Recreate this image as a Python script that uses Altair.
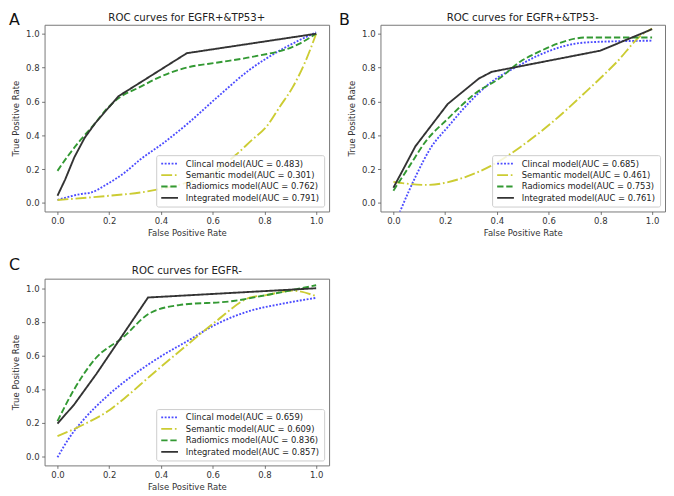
import altair as alt
import pandas as pd

# ---------------- data ----------------
MODELS = ["Clincal", "Semantic", "Radiomics", "Integrated"]
COLORS = ["#4c4cff", "#cccc33", "#339933", "#333333"]
DASHES = [[1.9, 1.6], [11, 2.8, 1.7, 2.8], [6.4, 2.8], [1, 0]]
LETTERS = ["A", "B", "C"]
TITLES = ["ROC curves for EGFR+&TP53+", "ROC curves for EGFR+&TP53-", "ROC curves for EGFR-"]
TICKS = [0.0, 0.2, 0.4, 0.6, 0.8, 1.0]

A_AUC = [0.483, 0.301, 0.762, 0.791]
B_AUC = [0.685, 0.461, 0.753, 0.761]
C_AUC = [0.659, 0.609, 0.836, 0.857]

# Panel A
A_CLIN_X = [0.0, 0.09, 0.13, 0.19, 0.26, 0.32, 0.41, 0.5, 0.62, 0.74, 0.87, 1.0]
A_CLIN_Y = [0.018, 0.053, 0.062, 0.11, 0.18, 0.257, 0.355, 0.465, 0.628, 0.784, 0.91, 1.008]
A_SEM_X = [0.0, 0.2, 0.32, 0.42, 0.5, 0.6, 0.69, 0.75, 0.81, 0.86, 0.91, 0.96, 1.0]
A_SEM_Y = [0.018, 0.043, 0.062, 0.09, 0.12, 0.18, 0.285, 0.37, 0.455, 0.57, 0.686, 0.842, 1.0]
A_RAD_X = [0.0, 0.04, 0.09, 0.142, 0.193, 0.237, 0.32, 0.395, 0.5, 0.62, 0.744, 0.934, 1.0]
A_RAD_Y = [0.19, 0.277, 0.374, 0.465, 0.56, 0.62, 0.686, 0.744, 0.8, 0.83, 0.861, 0.94, 1.0]
A_INT_X = [0.0, 0.03, 0.065, 0.105, 0.145, 0.235, 0.5, 1.0]
A_INT_Y = [0.043, 0.14, 0.27, 0.385, 0.47, 0.63, 0.885, 1.0]

# Panel B
B_CLIN_X = [0.0, 0.03, 0.087, 0.144, 0.212, 0.29, 0.379, 0.483, 0.559, 0.749, 1.0]
B_CLIN_Y = [-0.15, -0.035, 0.16, 0.325, 0.452, 0.589, 0.715, 0.81, 0.871, 0.949, 0.959]
B_SEM_X = [0.0, 0.125, 0.29, 0.375, 0.49, 0.61, 0.737, 0.863, 0.964, 1.0]
B_SEM_Y = [0.125, 0.107, 0.16, 0.218, 0.33, 0.472, 0.647, 0.832, 0.998, 1.03]
B_RAD_X = [0.0, 0.062, 0.125, 0.212, 0.316, 0.417, 0.49, 0.546, 0.75, 1.0]
B_RAD_Y = [0.073, 0.218, 0.364, 0.5, 0.647, 0.744, 0.835, 0.881, 0.978, 0.978]
B_INT_X = [0.0, 0.085, 0.21, 0.33, 0.38, 0.8, 1.0]
B_INT_Y = [0.09, 0.335, 0.585, 0.735, 0.775, 0.9, 1.027]

# Panel C
C_CLIN_X = [0.0, 0.05, 0.101, 0.19, 0.292, 0.406, 0.501, 0.615, 0.743, 0.869, 1.0]
C_CLIN_Y = [-0.005, 0.121, 0.219, 0.356, 0.483, 0.601, 0.685, 0.787, 0.865, 0.908, 0.943]
C_SEM_X = [0.0, 0.101, 0.203, 0.267, 0.355, 0.495, 0.615, 0.743, 0.806, 0.907, 1.0]
C_SEM_Y = [0.121, 0.19, 0.278, 0.356, 0.474, 0.655, 0.806, 0.944, 0.959, 0.986, 0.953]
C_RAD_X = [0.0, 0.063, 0.146, 0.254, 0.355, 0.47, 0.679, 0.806, 1.0]
C_RAD_Y = [0.21, 0.395, 0.581, 0.709, 0.85, 0.9, 0.924, 0.959, 1.018]
C_INT_X = [0.0, 0.065, 0.15, 0.35, 1.0]
C_INT_Y = [0.195, 0.31, 0.49, 0.945, 1.0]

FONT = "DejaVu Sans"
W, H = 288, 189


def panel(letter, title, auc, series, ydom, letter_x, letter_y, title_y):
    labels = [f"{m} model(AUC = {a:.3f})" for m, a in zip(MODELS, auc)]
    rows = []
    for lab, (xs, ys) in zip(labels, series):
        for i, (x, y) in enumerate(zip(xs, ys)):
            rows.append({"model": lab, "fpr": x, "tpr": y, "order": i})
    df = pd.DataFrame(rows)

    leg = alt.Legend(
        title=None, orient="bottom-right", offset=5,
        fillColor="rgba(255,255,255,0.8)", strokeColor="#cccccc", cornerRadius=2,
        padding=4, labelFontSize=8.5, labelFont=FONT, labelColor="#222222",
        symbolType="M-1,0H4", symbolSize=46, symbolStrokeWidth=1.8,
        labelOffset=17, rowPadding=2.6, labelLimit=400,
    )
    xenc = alt.X(
        "fpr:Q",
        scale=alt.Scale(domain=[-0.05, 1.05], nice=False, zero=False),
        axis=alt.Axis(values=TICKS, format=".1f", title="False Positive Rate",
                      labelPadding=2.5, titlePadding=3, titleFontWeight="normal"),
    )
    yenc = alt.Y(
        "tpr:Q",
        scale=alt.Scale(domain=ydom, nice=False, zero=False),
        axis=alt.Axis(values=TICKS, format=".1f", title="True Positive Rate",
                      labelPadding=2.5, titlePadding=5.5, titleFontWeight="normal"),
    )
    color = alt.Color("model:N", scale=alt.Scale(domain=labels, range=COLORS), legend=leg)
    dash = alt.StrokeDash("model:N", scale=alt.Scale(domain=labels, range=DASHES), legend=leg)

    base = alt.Chart(df).encode(x=xenc, y=yenc, color=color, strokeDash=dash, order="order:Q")
    smooth = base.transform_filter(alt.datum.model != labels[3]).mark_line(
        interpolate="monotone", strokeWidth=1.9, clip=True)
    straight = base.transform_filter(alt.datum.model == labels[3]).mark_line(
        strokeWidth=1.9, clip=True)

    letter_mark = alt.Chart(pd.DataFrame({"t": [letter]})).mark_text(
        font=FONT, fontSize=16, align="left", baseline="top", color="#111111"
    ).encode(text="t:N", x=alt.value(letter_x), y=alt.value(letter_y))
    title_mark = alt.Chart(pd.DataFrame({"t": [title]})).mark_text(
        font=FONT, fontSize=10.3, align="center", baseline="alphabetic", color="#222222"
    ).encode(text="t:N", x=alt.value(W / 2), y=alt.value(title_y))

    return alt.layer(smooth, straight, letter_mark, title_mark).resolve_scale(
        color="shared", strokeDash="shared"
    ).properties(width=W, height=H)


pA = panel(LETTERS[0], TITLES[0], A_AUC,
           [(A_CLIN_X, A_CLIN_Y), (A_SEM_X, A_SEM_Y), (A_RAD_X, A_RAD_Y), (A_INT_X, A_INT_Y)],
           [-0.05, 1.053], -36, -13, -4)
pB = panel(LETTERS[1], TITLES[1], B_AUC,
           [(B_CLIN_X, B_CLIN_Y), (B_SEM_X, B_SEM_Y), (B_RAD_X, B_RAD_Y), (B_INT_X, B_INT_Y)],
           [-0.05, 1.053], -42, -13, -4)
pC = panel(LETTERS[2], TITLES[2], C_AUC,
           [(C_CLIN_X, C_CLIN_Y), (C_SEM_X, C_SEM_Y), (C_RAD_X, C_RAD_Y), (C_INT_X, C_INT_Y)],
           [-0.053, 1.057], -36, -22, -4.5)

chart = alt.concat(
    pA, pB, pC, columns=2, spacing={"row": 18, "column": 8}, align="each",
    padding=0, background="white",
).resolve_scale(
    color="independent", strokeDash="independent", x="independent", y="independent"
).resolve_legend(
    color="independent", strokeDash="independent"
).configure_view(
    stroke="#777777", strokeWidth=1
).configure_axis(
    grid=False, domain=False, labelFont=FONT, titleFont=FONT,
    labelFontSize=8.6, titleFontSize=8.6, titleFontWeight="normal",
    labelColor="#333333", titleColor="#333333", tickColor="#555555",
    tickSize=3, tickWidth=0.8,
)

chart.save("out.html", embed_options={"renderer": "svg", "actions": False})
